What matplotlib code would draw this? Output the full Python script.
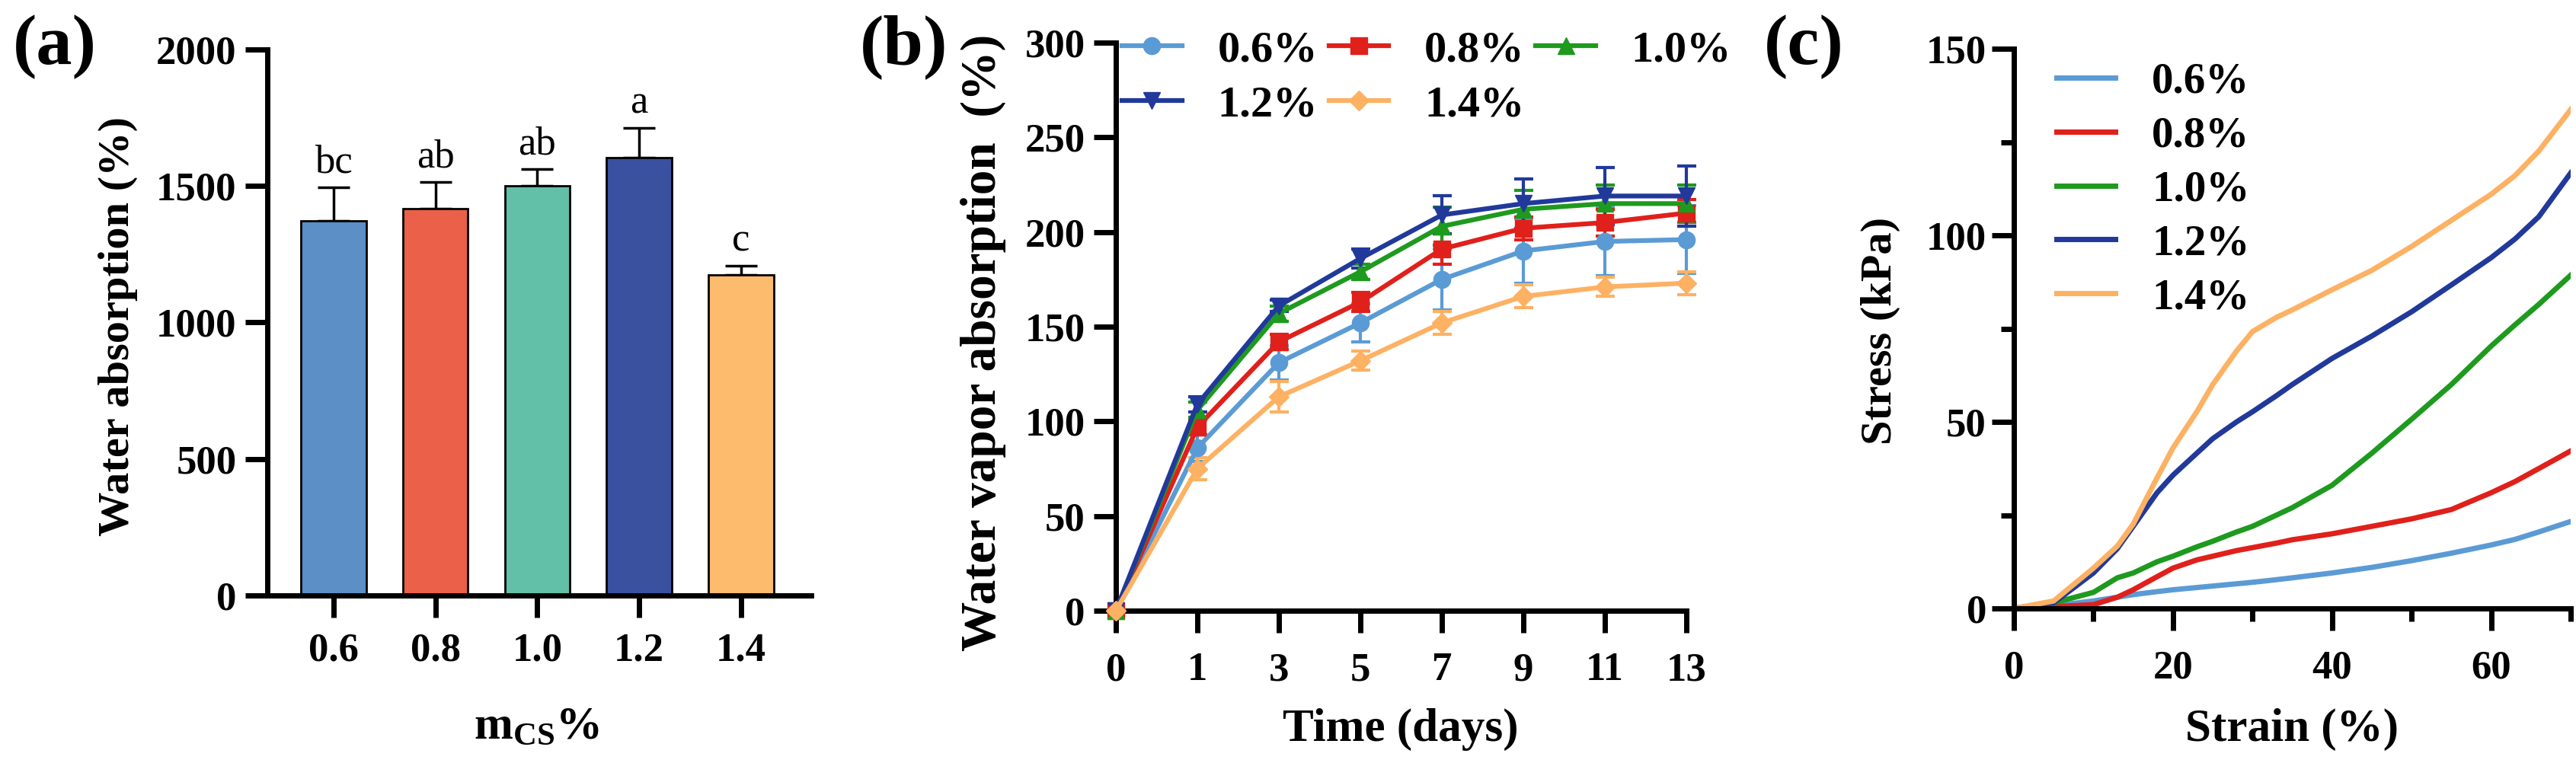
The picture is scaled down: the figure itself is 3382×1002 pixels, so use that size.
import numpy as np
import matplotlib
matplotlib.use("Agg")
import matplotlib.pyplot as plt
from matplotlib.ticker import MultipleLocator

# ---- data ----
conc = ["0.6", "0.8", "1.0", "1.2", "1.4"]
labels = ["0.6%", "0.8%", "1.0%", "1.2%", "1.4%"]

# (a) water absorption
absorb = [1372, 1418, 1502, 1605, 1175]
absorb_err = [123, 97, 60, 108, 32]
letters = ["bc", "ab", "ab", "a", "c"]
bar_colors = ["#5B8FC6", "#EB6048", "#62C0A8", "#3A51A0", "#FDBB6D"]

# (b) water vapor absorption
days = ["0", "1", "3", "5", "7", "9", "11", "13"]
vap_06 = [0, 86, 131, 152, 175, 190, 195, 196]
vap_08 = [0, 97, 142, 163, 191, 202, 205, 210]
vap_10 = [0, 106, 157, 179, 203, 212, 215, 215]
vap_12 = [0, 109, 161, 186, 209, 215, 219, 219]
vap_14 = [0, 75, 113, 132, 152, 166, 171, 173]
err_06 = [0, 7, 9, 10, 16, 17, 18, 18]
err_08 = [0, 4, 4, 5, 8, 6, 7, 7]
err_10 = [0, 4, 4, 4, 10, 10, 10, 10]
err_12 = [0, 4, 3, 5, 10, 13, 15, 16]
err_14 = [0, 6, 8, 5, 6, 6, 5, 6]

# (c) stress-strain
strain = [0, 5, 10, 13, 15, 18, 20, 23, 25, 28, 30, 33, 35, 40, 45, 50, 55, 60, 63, 66, 70]
st_06 = [0, 0.7, 2, 3, 3.7, 4.5, 5, 5.6, 6, 6.6, 7, 7.7, 8.2, 9.5, 11, 12.8, 14.8, 17, 18.5, 20.5, 23.3]
st_08 = [0, 0.5, 1, 3, 5, 8.5, 10.8, 13, 14, 15.5, 16.3, 17.5, 18.4, 20, 22, 24, 26.5, 31, 34, 37.5, 42.2]
st_10 = [0, 1.5, 4.3, 8.2, 9.5, 12.5, 14, 16.5, 18, 20.5, 22, 25, 27, 33, 41.6, 50.7, 60, 70.3, 76, 81.5, 89.3]
st_12 = [0, 1.5, 9.5, 16, 22, 31, 35.7, 41.6, 45.5, 50, 52.7, 57, 60, 67, 73, 79.5, 86.7, 94, 99, 105, 116.7]
st_14 = [0, 2, 10.8, 16.7, 22.6, 35, 43, 52.7, 60, 69, 74.2, 78, 80, 85.4, 90.6, 97, 104, 111, 116, 122.6, 133.7]

line_colors = ["#5B9BD5", "#E0201B", "#1E9A1E", "#21399A", "#FDB163"]
markers = ["o", "s", "^", "v", "D"]

plt.rcParams["font.family"] = ["Liberation Serif", "DejaVu Serif"]
plt.rcParams["font.weight"] = "bold"
plt.rcParams["mathtext.fontset"] = "custom"
plt.rcParams["mathtext.rm"] = "Liberation Serif:bold"
plt.rcParams["mathtext.bf"] = "Liberation Serif:bold"
plt.rcParams["mathtext.it"] = "Liberation Serif:bold"

W, H = 3382, 1002
fig = plt.figure(figsize=(W / 100, H / 100), dpi=100)


def box(l, r, t, b):
    return [l / W, 1 - b / H, (r - l) / W, (b - t) / H]


def style(ax):
    for s in ["top", "right"]:
        ax.spines[s].set_visible(False)
    for s in ["left", "bottom"]:
        ax.spines[s].set_linewidth(5)
    ax.tick_params(which="major", length=21, width=5, labelsize=38)
    ax.tick_params(which="minor", length=12, width=5)


def ftext(x, y, s, **kw):
    fig.text(x / W, 1 - y / H, s, ha="center", va="center", **kw)


# ---- (a) ----
ax1 = fig.add_axes(box(351, 1065, 65, 782))
style(ax1)
xpos = np.arange(len(conc))
ax1.bar(xpos, absorb, width=0.64, color=bar_colors, edgecolor="black", linewidth=2, zorder=2)
ax1.errorbar(xpos, absorb, yerr=[np.zeros(len(conc)), absorb_err], fmt="none",
             ecolor="black", elinewidth=2.5, capsize=15, capthick=2.5, zorder=1)
for i in range(len(conc)):
    ax1.annotate(letters[i], (xpos[i], absorb[i] + absorb_err[i]), xytext=(0, 6),
                 textcoords="offset points", ha="center", va="bottom",
                 fontsize=38, fontweight="normal")
ax1.set_xlim(-0.65, 4.69)
ax1.set_ylim(0, 2000)
ax1.set_yticks([0, 500, 1000, 1500, 2000])
ax1.set_xticks(xpos)
ax1.set_xticklabels(conc)
ax1.tick_params(axis="x", pad=14)
ax1.tick_params(axis="y", pad=8)

# ---- (b) ----
ax2 = fig.add_axes(box(1465, 2214, 56, 802))
style(ax2)
xd = np.arange(len(days))
vaps = [vap_06, vap_08, vap_10, vap_12, vap_14]
errs = [err_06, err_08, err_10, err_12, err_14]
handles = []
for i in range(5):
    ax2.errorbar(xd, vaps[i], yerr=errs[i], fmt="none", ecolor=line_colors[i],
                 elinewidth=3, capsize=9, capthick=3, clip_on=False, zorder=3)
    ms = 13 if markers[i] == "D" else 16
    h, = ax2.plot(xd, vaps[i], color=line_colors[i], lw=4.5, marker=markers[i],
                  markersize=ms, clip_on=False, zorder=4, label=labels[i])
    handles.append(h)
ax2.set_xlim(0, 7)
ax2.set_ylim(0, 300)
ax2.set_yticks(np.arange(0, 301, 50))
ax2.set_xticks(xd)
ax2.set_xticklabels(days)
ax2.tick_params(axis="x", pad=18)
ax2.tick_params(axis="y", pad=8)
order = [0, 3, 1, 4, 2]
ax2.legend([handles[k] for k in order], [labels[k] for k in order], ncol=3,
           loc="upper left", bbox_to_anchor=(1473 / W, 1 - 40 / H),
           bbox_transform=fig.transFigure, frameon=False, fontsize=42,
           handlelength=1.35, handletextpad=0.8, columnspacing=0.25,
           labelspacing=0.32, borderpad=0, borderaxespad=0)

# ---- (c) ----
ax3 = fig.add_axes(box(2644, 3375, 64, 799))
style(ax3)
stresses = [st_06, st_08, st_10, st_12, st_14]
for i in range(5):
    ax3.plot(strain, stresses[i], color=line_colors[i], lw=5, label=labels[i])
ax3.set_xlim(0, 70)
ax3.set_ylim(0, 150)
ax3.set_xticks([0, 20, 40, 60])
ax3.set_yticks([0, 50, 100, 150])
ax3.xaxis.set_minor_locator(MultipleLocator(10))
ax3.yaxis.set_minor_locator(MultipleLocator(25))
ax3.tick_params(axis="x", pad=18)
ax3.tick_params(axis="y", pad=5)
ax3.legend(loc="upper left", bbox_to_anchor=(2700 / W, 1 - 82 / H),
           bbox_transform=fig.transFigure, frameon=False, fontsize=41,
           handlelength=1.35, handletextpad=0.85, labelspacing=0.33,
           borderpad=0, borderaxespad=0)

# ---- labels ----
ftext(155, 429, "Water absorption (%)", rotation=90, fontsize=42)
ftext(1291, 450, "Water vapor absorption  (%)", rotation=90, fontsize=47)
ftext(2469, 434, "Stress (kPa)", rotation=90, fontsize=42)
ftext(704, 955, r"m$_{\mathbf{CS}}$%", fontsize=44)
ftext(1839, 958, "Time (days)", fontsize=44)
ftext(3009, 958, "Strain (%)", fontsize=44)
ftext(72, 62, "(a)", fontsize=68)
ftext(1187, 62, "(b)", fontsize=68)
ftext(2368, 62, "(c)", fontsize=68)

fig.savefig("out.png", dpi=100)
